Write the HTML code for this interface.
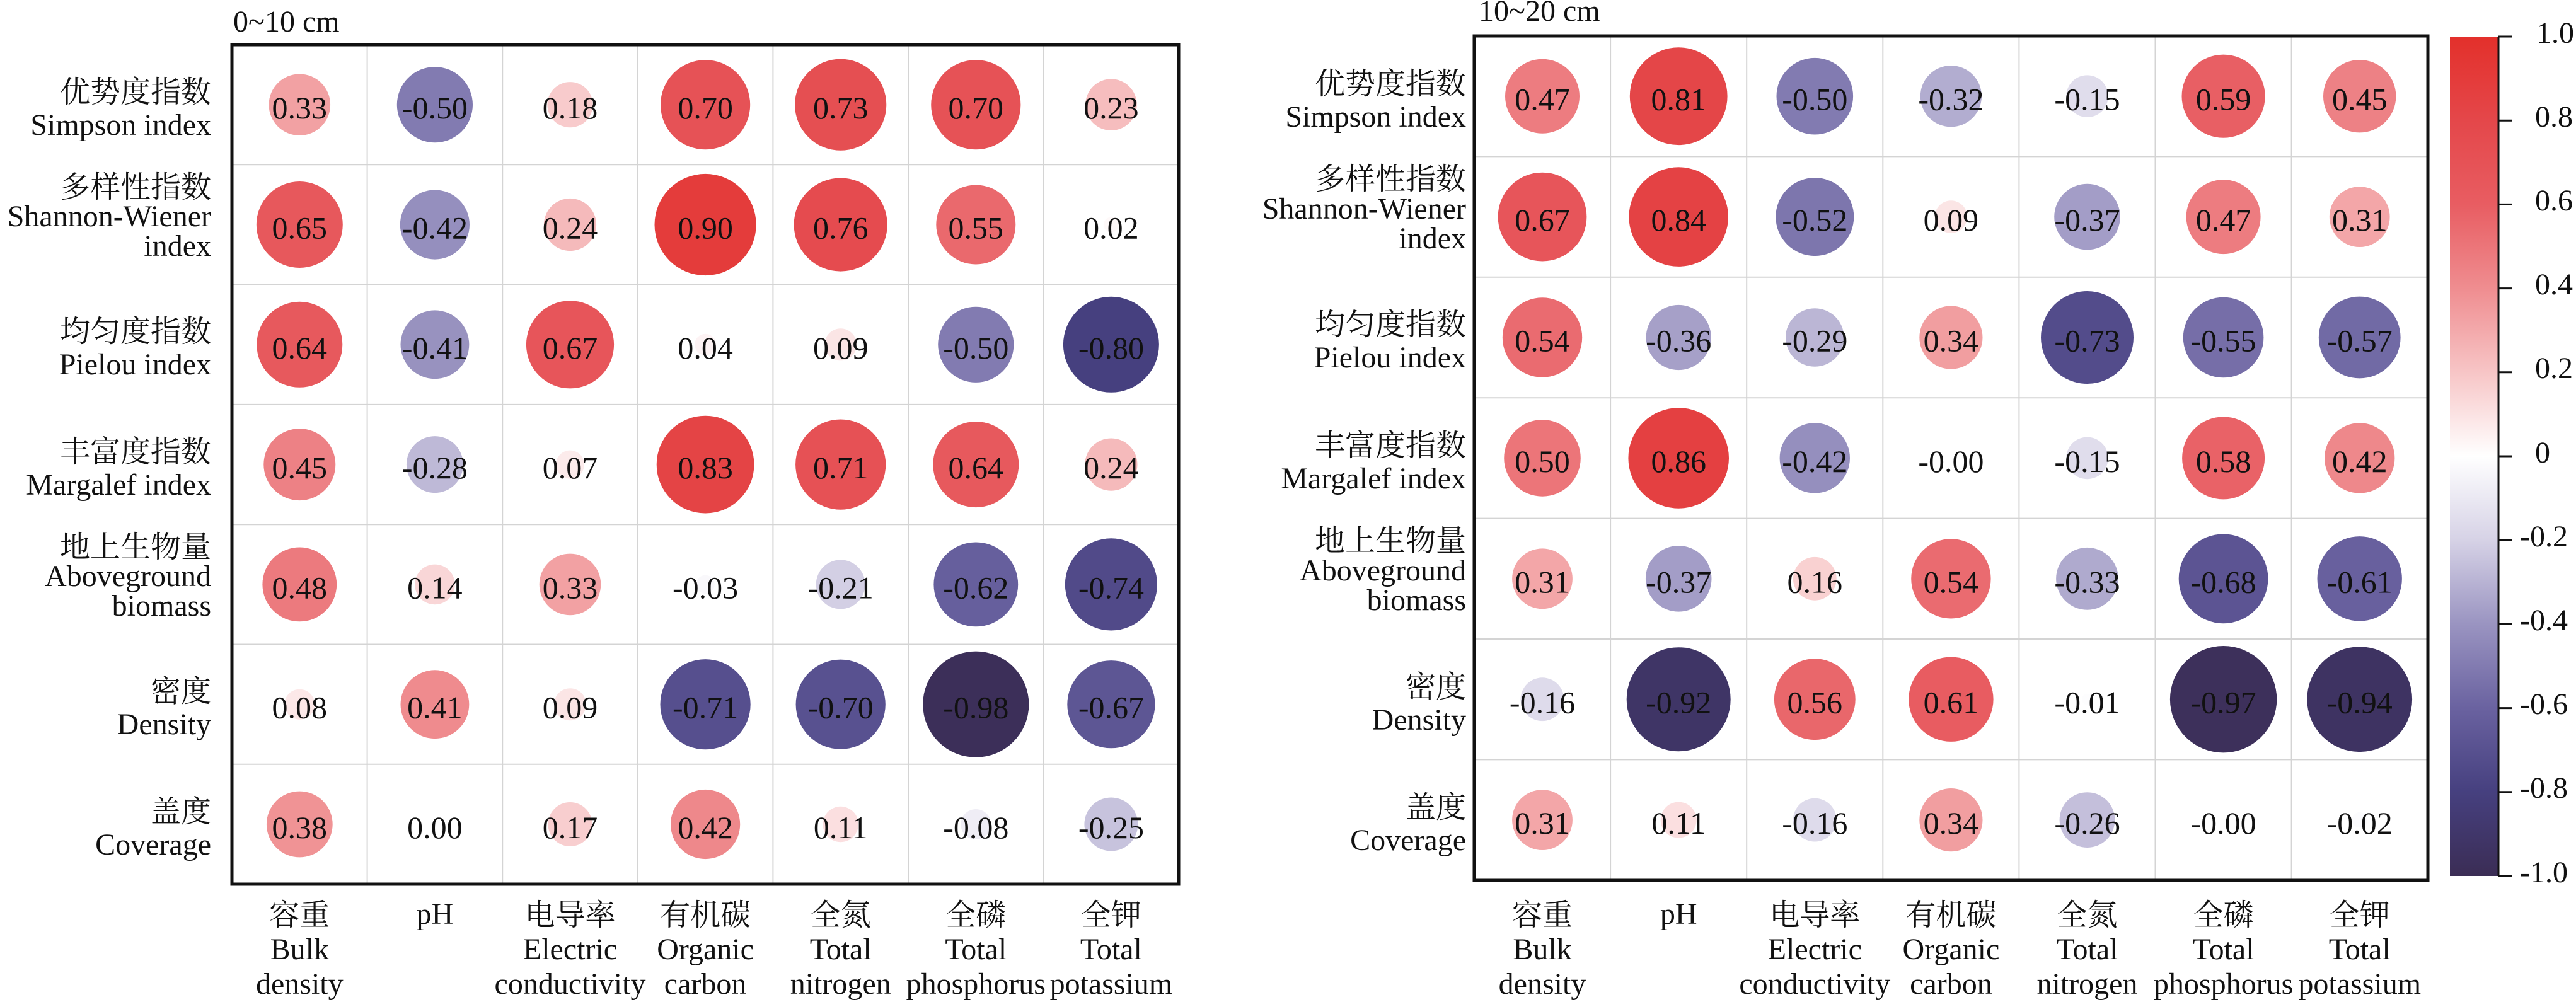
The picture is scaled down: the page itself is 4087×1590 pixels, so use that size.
<!DOCTYPE html>
<html><head><meta charset="utf-8"><style>
html,body{margin:0;padding:0;background:#fff;width:4087px;height:1590px;overflow:hidden}
svg{display:block}
text{font-family:"Liberation Serif","Noto Serif CJK SC","Noto Sans CJK SC",serif;fill:#111}
.v{font-size:50px;text-anchor:middle}
.rl{font-size:48px;text-anchor:end}
.cl{font-size:48px;text-anchor:middle}
.cb{font-size:48px}
</style></head><body>
<svg id="s" width="4087" height="1590" viewBox="0 0 4087 1590" xmlns="http://www.w3.org/2000/svg">
<defs>
<linearGradient id="cbg" x1="0" y1="0" x2="0" y2="1">
<stop offset="0" stop-color="#e3302b"/><stop offset="0.1" stop-color="#e4474a"/><stop offset="0.2" stop-color="#e85d62"/><stop offset="0.3" stop-color="#ef8d90"/><stop offset="0.4" stop-color="#f7c5c6"/><stop offset="0.5" stop-color="#ffffff"/><stop offset="0.6" stop-color="#d6d2e6"/><stop offset="0.7" stop-color="#9a94c1"/><stop offset="0.8" stop-color="#6a62a0"/><stop offset="0.9" stop-color="#46407f"/><stop offset="1" stop-color="#3b2d55"/>
</linearGradient>
</defs>
<!-- titles -->
<text x="370" y="50" style="font-size:48px">0~10 cm</text>
<text x="2346" y="33" style="font-size:48px">10~20 cm</text>

<!-- left grid -->
<g stroke="#d4d4d4" stroke-width="2">
<line x1="582.6" y1="71" x2="582.6" y2="1403"/><line x1="797.2" y1="71" x2="797.2" y2="1403"/><line x1="1011.8" y1="71" x2="1011.8" y2="1403"/><line x1="1226.4" y1="71" x2="1226.4" y2="1403"/><line x1="1441" y1="71" x2="1441" y2="1403"/><line x1="1655.6" y1="71" x2="1655.6" y2="1403"/>
<line x1="368" y1="261.3" x2="1870" y2="261.3"/><line x1="368" y1="451.6" x2="1870" y2="451.6"/><line x1="368" y1="641.9" x2="1870" y2="641.9"/><line x1="368" y1="832.2" x2="1870" y2="832.2"/><line x1="368" y1="1022.5" x2="1870" y2="1022.5"/><line x1="368" y1="1212.8" x2="1870" y2="1212.8"/>
</g>
<!-- right grid -->
<g stroke="#d4d4d4" stroke-width="2">
<line x1="2555.1" y1="57" x2="2555.1" y2="1397"/><line x1="2771.2" y1="57" x2="2771.2" y2="1397"/><line x1="2987.3" y1="57" x2="2987.3" y2="1397"/><line x1="3203.4" y1="57" x2="3203.4" y2="1397"/><line x1="3419.5" y1="57" x2="3419.5" y2="1397"/><line x1="3635.6" y1="57" x2="3635.6" y2="1397"/>
<line x1="2339" y1="248.4" x2="3852" y2="248.4"/><line x1="2339" y1="439.8" x2="3852" y2="439.8"/><line x1="2339" y1="631.2" x2="3852" y2="631.2"/><line x1="2339" y1="822.6" x2="3852" y2="822.6"/><line x1="2339" y1="1014" x2="3852" y2="1014"/><line x1="2339" y1="1205.4" x2="3852" y2="1205.4"/>
</g>

<!-- left values -->
<g id="L" data-d="170">
<g transform="translate(475.3,166.2)"><text class="v" y="22">0.33</text></g>
<g transform="translate(689.9,166.2)"><text class="v" y="22">-0.50</text></g>
<g transform="translate(904.5,166.2)"><text class="v" y="22">0.18</text></g>
<g transform="translate(1119.1,166.2)"><text class="v" y="22">0.70</text></g>
<g transform="translate(1333.7,166.2)"><text class="v" y="22">0.73</text></g>
<g transform="translate(1548.3,166.2)"><text class="v" y="22">0.70</text></g>
<g transform="translate(1762.9,166.2)"><text class="v" y="22">0.23</text></g>

<g transform="translate(475.3,356.5)"><text class="v" y="22">0.65</text></g>
<g transform="translate(689.9,356.5)"><text class="v" y="22">-0.42</text></g>
<g transform="translate(904.5,356.5)"><text class="v" y="22">0.24</text></g>
<g transform="translate(1119.1,356.5)"><text class="v" y="22">0.90</text></g>
<g transform="translate(1333.7,356.5)"><text class="v" y="22">0.76</text></g>
<g transform="translate(1548.3,356.5)"><text class="v" y="22">0.55</text></g>
<g transform="translate(1762.9,356.5)"><text class="v" y="22">0.02</text></g>

<g transform="translate(475.3,546.8)"><text class="v" y="22">0.64</text></g>
<g transform="translate(689.9,546.8)"><text class="v" y="22">-0.41</text></g>
<g transform="translate(904.5,546.8)"><text class="v" y="22">0.67</text></g>
<g transform="translate(1119.1,546.8)"><text class="v" y="22">0.04</text></g>
<g transform="translate(1333.7,546.8)"><text class="v" y="22">0.09</text></g>
<g transform="translate(1548.3,546.8)"><text class="v" y="22">-0.50</text></g>
<g transform="translate(1762.9,546.8)"><text class="v" y="22">-0.80</text></g>

<g transform="translate(475.3,737.1)"><text class="v" y="22">0.45</text></g>
<g transform="translate(689.9,737.1)"><text class="v" y="22">-0.28</text></g>
<g transform="translate(904.5,737.1)"><text class="v" y="22">0.07</text></g>
<g transform="translate(1119.1,737.1)"><text class="v" y="22">0.83</text></g>
<g transform="translate(1333.7,737.1)"><text class="v" y="22">0.71</text></g>
<g transform="translate(1548.3,737.1)"><text class="v" y="22">0.64</text></g>
<g transform="translate(1762.9,737.1)"><text class="v" y="22">0.24</text></g>

<g transform="translate(475.3,927.4)"><text class="v" y="22">0.48</text></g>
<g transform="translate(689.9,927.4)"><text class="v" y="22">0.14</text></g>
<g transform="translate(904.5,927.4)"><text class="v" y="22">0.33</text></g>
<g transform="translate(1119.1,927.4)"><text class="v" y="22">-0.03</text></g>
<g transform="translate(1333.7,927.4)"><text class="v" y="22">-0.21</text></g>
<g transform="translate(1548.3,927.4)"><text class="v" y="22">-0.62</text></g>
<g transform="translate(1762.9,927.4)"><text class="v" y="22">-0.74</text></g>

<g transform="translate(475.3,1117.7)"><text class="v" y="22">0.08</text></g>
<g transform="translate(689.9,1117.7)"><text class="v" y="22">0.41</text></g>
<g transform="translate(904.5,1117.7)"><text class="v" y="22">0.09</text></g>
<g transform="translate(1119.1,1117.7)"><text class="v" y="22">-0.71</text></g>
<g transform="translate(1333.7,1117.7)"><text class="v" y="22">-0.70</text></g>
<g transform="translate(1548.3,1117.7)"><text class="v" y="22">-0.98</text></g>
<g transform="translate(1762.9,1117.7)"><text class="v" y="22">-0.67</text></g>

<g transform="translate(475.3,1308)"><text class="v" y="22">0.38</text></g>
<g transform="translate(689.9,1308)"><text class="v" y="22">0.00</text></g>
<g transform="translate(904.5,1308)"><text class="v" y="22">0.17</text></g>
<g transform="translate(1119.1,1308)"><text class="v" y="22">0.42</text></g>
<g transform="translate(1333.7,1308)"><text class="v" y="22">0.11</text></g>
<g transform="translate(1548.3,1308)"><text class="v" y="22">-0.08</text></g>
<g transform="translate(1762.9,1308)"><text class="v" y="22">-0.25</text></g>
</g>

<!-- right values -->
<g id="R" data-d="172">
<g transform="translate(2447,152.7)"><text class="v" y="22">0.47</text></g>
<g transform="translate(2663.2,152.7)"><text class="v" y="22">0.81</text></g>
<g transform="translate(2879.3,152.7)"><text class="v" y="22">-0.50</text></g>
<g transform="translate(3095.4,152.7)"><text class="v" y="22">-0.32</text></g>
<g transform="translate(3311.5,152.7)"><text class="v" y="22">-0.15</text></g>
<g transform="translate(3527.6,152.7)"><text class="v" y="22">0.59</text></g>
<g transform="translate(3743.7,152.7)"><text class="v" y="22">0.45</text></g>

<g transform="translate(2447,344.1)"><text class="v" y="22">0.67</text></g>
<g transform="translate(2663.2,344.1)"><text class="v" y="22">0.84</text></g>
<g transform="translate(2879.3,344.1)"><text class="v" y="22">-0.52</text></g>
<g transform="translate(3095.4,344.1)"><text class="v" y="22">0.09</text></g>
<g transform="translate(3311.5,344.1)"><text class="v" y="22">-0.37</text></g>
<g transform="translate(3527.6,344.1)"><text class="v" y="22">0.47</text></g>
<g transform="translate(3743.7,344.1)"><text class="v" y="22">0.31</text></g>

<g transform="translate(2447,535.5)"><text class="v" y="22">0.54</text></g>
<g transform="translate(2663.2,535.5)"><text class="v" y="22">-0.36</text></g>
<g transform="translate(2879.3,535.5)"><text class="v" y="22">-0.29</text></g>
<g transform="translate(3095.4,535.5)"><text class="v" y="22">0.34</text></g>
<g transform="translate(3311.5,535.5)"><text class="v" y="22">-0.73</text></g>
<g transform="translate(3527.6,535.5)"><text class="v" y="22">-0.55</text></g>
<g transform="translate(3743.7,535.5)"><text class="v" y="22">-0.57</text></g>

<g transform="translate(2447,726.9)"><text class="v" y="22">0.50</text></g>
<g transform="translate(2663.2,726.9)"><text class="v" y="22">0.86</text></g>
<g transform="translate(2879.3,726.9)"><text class="v" y="22">-0.42</text></g>
<g transform="translate(3095.4,726.9)"><text class="v" y="22">-0.00</text></g>
<g transform="translate(3311.5,726.9)"><text class="v" y="22">-0.15</text></g>
<g transform="translate(3527.6,726.9)"><text class="v" y="22">0.58</text></g>
<g transform="translate(3743.7,726.9)"><text class="v" y="22">0.42</text></g>

<g transform="translate(2447,918.3)"><text class="v" y="22">0.31</text></g>
<g transform="translate(2663.2,918.3)"><text class="v" y="22">-0.37</text></g>
<g transform="translate(2879.3,918.3)"><text class="v" y="22">0.16</text></g>
<g transform="translate(3095.4,918.3)"><text class="v" y="22">0.54</text></g>
<g transform="translate(3311.5,918.3)"><text class="v" y="22">-0.33</text></g>
<g transform="translate(3527.6,918.3)"><text class="v" y="22">-0.68</text></g>
<g transform="translate(3743.7,918.3)"><text class="v" y="22">-0.61</text></g>

<g transform="translate(2447,1109.7)"><text class="v" y="22">-0.16</text></g>
<g transform="translate(2663.2,1109.7)"><text class="v" y="22">-0.92</text></g>
<g transform="translate(2879.3,1109.7)"><text class="v" y="22">0.56</text></g>
<g transform="translate(3095.4,1109.7)"><text class="v" y="22">0.61</text></g>
<g transform="translate(3311.5,1109.7)"><text class="v" y="22">-0.01</text></g>
<g transform="translate(3527.6,1109.7)"><text class="v" y="22">-0.97</text></g>
<g transform="translate(3743.7,1109.7)"><text class="v" y="22">-0.94</text></g>

<g transform="translate(2447,1301.1)"><text class="v" y="22">0.31</text></g>
<g transform="translate(2663.2,1301.1)"><text class="v" y="22">0.11</text></g>
<g transform="translate(2879.3,1301.1)"><text class="v" y="22">-0.16</text></g>
<g transform="translate(3095.4,1301.1)"><text class="v" y="22">0.34</text></g>
<g transform="translate(3311.5,1301.1)"><text class="v" y="22">-0.26</text></g>
<g transform="translate(3527.6,1301.1)"><text class="v" y="22">-0.00</text></g>
<g transform="translate(3743.7,1301.1)"><text class="v" y="22">-0.02</text></g>
</g>

<!-- borders -->
<rect x="368" y="71" width="1502" height="1332" fill="none" stroke="#111" stroke-width="5"/>
<rect x="2339" y="57" width="1513" height="1340" fill="none" stroke="#111" stroke-width="5"/>

<!-- left row labels -->
<g class="rlg">
<text class="rl" x="335" y="162">优势度指数</text><text class="rl" x="335" y="214">Simpson index</text>
<text class="rl" x="335" y="313">多样性指数</text><text class="rl" x="335" y="359">Shannon-Wiener</text><text class="rl" x="335" y="406">index</text>
<text class="rl" x="335" y="542">均匀度指数</text><text class="rl" x="335" y="594">Pielou index</text>
<text class="rl" x="335" y="733">丰富度指数</text><text class="rl" x="335" y="785">Margalef index</text>
<text class="rl" x="335" y="884">地上生物量</text><text class="rl" x="335" y="930">Aboveground</text><text class="rl" x="335" y="977">biomass</text>
<text class="rl" x="335" y="1113">密度</text><text class="rl" x="335" y="1165">Density</text>
<text class="rl" x="335" y="1304">盖度</text><text class="rl" x="335" y="1356">Coverage</text>
</g>
<!-- right row labels -->
<g>
<text class="rl" x="2326" y="149">优势度指数</text><text class="rl" x="2326" y="201">Simpson index</text>
<text class="rl" x="2326" y="300">多样性指数</text><text class="rl" x="2326" y="347">Shannon-Wiener</text><text class="rl" x="2326" y="394">index</text>
<text class="rl" x="2326" y="531">均匀度指数</text><text class="rl" x="2326" y="583">Pielou index</text>
<text class="rl" x="2326" y="723">丰富度指数</text><text class="rl" x="2326" y="775">Margalef index</text>
<text class="rl" x="2326" y="874">地上生物量</text><text class="rl" x="2326" y="921">Aboveground</text><text class="rl" x="2326" y="968">biomass</text>
<text class="rl" x="2326" y="1106">密度</text><text class="rl" x="2326" y="1158">Density</text>
<text class="rl" x="2326" y="1297">盖度</text><text class="rl" x="2326" y="1349">Coverage</text>
</g>

<!-- left column labels -->
<g>
<text class="cl" x="475.3" y="1468">容重</text><text class="cl" x="475.3" y="1522">Bulk</text><text class="cl" x="475.3" y="1577">density</text>
<text class="cl" x="689.9" y="1466">pH</text>
<text class="cl" x="904.5" y="1468">电导率</text><text class="cl" x="904.5" y="1522">Electric</text><text class="cl" x="904.5" y="1577">conductivity</text>
<text class="cl" x="1119.1" y="1468">有机碳</text><text class="cl" x="1119.1" y="1522">Organic</text><text class="cl" x="1119.1" y="1577">carbon</text>
<text class="cl" x="1333.7" y="1468">全氮</text><text class="cl" x="1333.7" y="1522">Total</text><text class="cl" x="1333.7" y="1577">nitrogen</text>
<text class="cl" x="1548.3" y="1468">全磷</text><text class="cl" x="1548.3" y="1522">Total</text><text class="cl" x="1548.3" y="1577">phosphorus</text>
<text class="cl" x="1762.9" y="1468">全钾</text><text class="cl" x="1762.9" y="1522">Total</text><text class="cl" x="1762.9" y="1577">potassium</text>
</g>
<!-- right column labels -->
<g>
<text class="cl" x="2447" y="1468">容重</text><text class="cl" x="2447" y="1522">Bulk</text><text class="cl" x="2447" y="1577">density</text>
<text class="cl" x="2663.2" y="1466">pH</text>
<text class="cl" x="2879.3" y="1468">电导率</text><text class="cl" x="2879.3" y="1522">Electric</text><text class="cl" x="2879.3" y="1577">conductivity</text>
<text class="cl" x="3095.4" y="1468">有机碳</text><text class="cl" x="3095.4" y="1522">Organic</text><text class="cl" x="3095.4" y="1577">carbon</text>
<text class="cl" x="3311.5" y="1468">全氮</text><text class="cl" x="3311.5" y="1522">Total</text><text class="cl" x="3311.5" y="1577">nitrogen</text>
<text class="cl" x="3527.6" y="1468">全磷</text><text class="cl" x="3527.6" y="1522">Total</text><text class="cl" x="3527.6" y="1577">phosphorus</text>
<text class="cl" x="3743.7" y="1468">全钾</text><text class="cl" x="3743.7" y="1522">Total</text><text class="cl" x="3743.7" y="1577">potassium</text>
</g>

<!-- colorbar -->
<rect x="3887" y="58" width="77" height="1332" fill="url(#cbg)"/>
<line x1="3964" y1="58" x2="3964" y2="1390" stroke="#111" stroke-width="3"/>
<g stroke="#111" stroke-width="3">
<line x1="3964" y1="58" x2="3985" y2="58"/><line x1="3964" y1="191.2" x2="3985" y2="191.2"/><line x1="3964" y1="324.4" x2="3985" y2="324.4"/><line x1="3964" y1="457.6" x2="3985" y2="457.6"/><line x1="3964" y1="590.8" x2="3985" y2="590.8"/><line x1="3964" y1="724" x2="3985" y2="724"/><line x1="3964" y1="857.2" x2="3985" y2="857.2"/><line x1="3964" y1="990.4" x2="3985" y2="990.4"/><line x1="3964" y1="1123.6" x2="3985" y2="1123.6"/><line x1="3964" y1="1256.8" x2="3985" y2="1256.8"/><line x1="3964" y1="1390" x2="3985" y2="1390"/>
</g>
<g class="cb">
<text class="cb" x="4024" y="68">1.0</text>
<text class="cb" x="4022" y="201">0.8</text>
<text class="cb" x="4022" y="334">0.6</text>
<text class="cb" x="4022" y="467">0.4</text>
<text class="cb" x="4022" y="600">0.2</text>
<text class="cb" x="4022" y="734">0</text>
<text class="cb" x="3998" y="867">-0.2</text>
<text class="cb" x="3998" y="1000">-0.4</text>
<text class="cb" x="3998" y="1133">-0.6</text>
<text class="cb" x="3998" y="1266">-0.8</text>
<text class="cb" x="3998" y="1400">-1.0</text>
</g>
</svg>
<script>
(function(){
var stops=[[-1,[59,45,85]],[-0.8,[70,64,127]],[-0.6,[106,98,160]],[-0.4,[154,148,193]],[-0.2,[214,210,230]],[0,[255,255,255]],[0.2,[247,197,198]],[0.4,[239,141,144]],[0.6,[232,93,98]],[0.8,[228,71,74]],[1,[227,48,43]]];
function col(v){for(var i=0;i<stops.length-1;i++){var a=stops[i],b=stops[i+1];if(v>=a[0]&&v<=b[0]){var t=(v-a[0])/(b[0]-a[0]);var c=a[1].map(function(x,k){return Math.round(x+(b[1][k]-x)*t)});return 'rgb('+c.join(',')+')';}}return '#fff';}
['L','R'].forEach(function(id){var g=document.getElementById(id);var D=+g.getAttribute('data-d');
Array.prototype.forEach.call(g.children,function(c){var t=c.querySelector('text');var v=parseFloat(t.textContent);
var r=D/2*Math.sqrt(Math.abs(v));if(r<0.5)return;var ci=document.createElementNS('http://www.w3.org/2000/svg','circle');
ci.setAttribute('r',r.toFixed(1));ci.setAttribute('fill',col(v));c.insertBefore(ci,t);});});
})();
</script>
</body></html>
